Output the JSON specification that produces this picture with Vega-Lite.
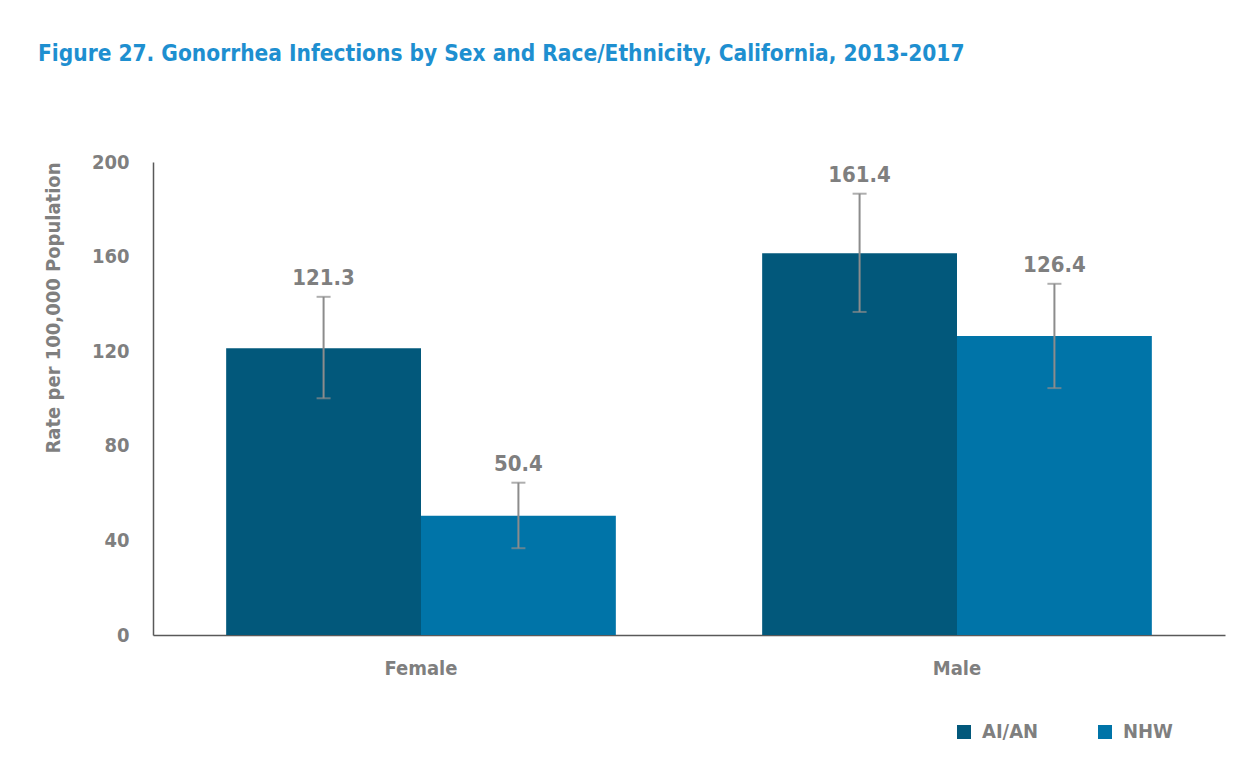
{
  "$schema": "https://vega.github.io/schema/vega-lite/v6.json",
  "width": 1072,
  "height": 473,
  "autosize": "none",
  "padding": {"left": 153, "top": 162, "right": 29, "bottom": 135},
  "background": "white",
  "config": {"view": {"stroke": null}},
  "title": {
    "text": "Figure 27. Gonorrhea Infections by Sex and Race/Ethnicity, California, 2013-2017",
    "anchor": "start",
    "frame": "group",
    "dx": -115,
    "offset": 87,
    "font": "Liberation Sans Narrow, DejaVu Sans Condensed, Roboto Condensed, Liberation Sans, sans-serif",
    "fontSize": 22.5,
    "fontWeight": "bold",
    "color": "#1E8FD0"
  },
  "data": {
    "values": [
      {"sex": "Female", "group": "AI/AN", "rate": 121.3, "lower": 100.1, "upper": 143.0},
      {"sex": "Female", "group": "NHW", "rate": 50.4, "lower": 36.7, "upper": 64.4},
      {"sex": "Male", "group": "AI/AN", "rate": 161.4, "lower": 136.6, "upper": 186.6},
      {"sex": "Male", "group": "NHW", "rate": 126.4, "lower": 104.4, "upper": 148.5}
    ]
  },
  "encoding": {
    "x": {
      "field": "sex",
      "type": "nominal",
      "scale": {"paddingInner": 0.273, "paddingOuter": 0.1365},
      "axis": {
        "title": null,
        "labelAngle": 0,
        "ticks": false,
        "labelPadding": 23,
        "labelFont": "Liberation Sans Narrow, DejaVu Sans Condensed, Roboto Condensed, Liberation Sans, sans-serif",
        "labelFontSize": 20,
        "labelFontWeight": "bold",
        "labelColor": "#7F7F7F",
        "domainColor": "#595959",
        "domainWidth": 1.5
      }
    },
    "xOffset": {"field": "group", "type": "nominal", "scale": {"paddingInner": 0, "paddingOuter": 0}}
  },
  "layer": [
    {
      "mark": {"type": "bar"},
      "encoding": {
        "y": {
          "field": "rate",
          "type": "quantitative",
          "scale": {"domain": [0, 200]},
          "axis": {
            "title": "Rate per 100,000 Population",
            "titleAnchor": "end",
            "values": [0, 40, 80, 120, 160, 200],
            "grid": false,
            "ticks": false,
            "labelPadding": 24,
            "labelFont": "Liberation Sans Narrow, DejaVu Sans Condensed, Roboto Condensed, Liberation Sans, sans-serif",
            "labelFontSize": 20,
            "labelFontWeight": "bold",
            "labelColor": "#7F7F7F",
            "titleFont": "Liberation Sans Narrow, DejaVu Sans Condensed, Roboto Condensed, Liberation Sans, sans-serif",
            "titleFontSize": 20,
            "titleFontWeight": "bold",
            "titleColor": "#7F7F7F",
            "titlePadding": 28,
            "domainColor": "#595959",
            "domainWidth": 1.5
          }
        },
        "color": {
          "field": "group",
          "type": "nominal",
          "scale": {"domain": ["AI/AN", "NHW"], "range": ["#02587B", "#0074A8"]},
          "legend": {
            "title": null,
            "orient": "none",
            "direction": "horizontal",
            "legendX": 801,
            "legendY": 560,
            "padding": 0,
            "symbolType": "square",
            "symbolSize": 196,
            "symbolStrokeWidth": 0,
            "labelFont": "Liberation Sans Narrow, DejaVu Sans Condensed, Roboto Condensed, Liberation Sans, sans-serif",
            "labelFontSize": 20,
            "labelFontWeight": "bold",
            "labelColor": "#7F7F7F",
            "labelOffset": 8,
            "columnPadding": 56
          }
        }
      }
    },
    {
      "mark": {"type": "rule", "color": "#8C8C8C", "strokeWidth": 2},
      "encoding": {
        "y": {"field": "lower", "type": "quantitative"},
        "y2": {"field": "upper"}
      }
    },
    {
      "mark": {"type": "tick", "color": "#8C8C8C", "thickness": 2, "size": 14},
      "encoding": {"y": {"field": "upper", "type": "quantitative"}}
    },
    {
      "mark": {"type": "tick", "color": "#8C8C8C", "thickness": 2, "size": 14},
      "encoding": {"y": {"field": "lower", "type": "quantitative"}}
    },
    {
      "mark": {
        "type": "text",
        "dy": -12,
        "baseline": "alphabetic",
        "font": "Liberation Sans Narrow, DejaVu Sans Condensed, Roboto Condensed, Liberation Sans, sans-serif",
        "fontSize": 22,
        "fontWeight": "bold",
        "color": "#7F7F7F"
      },
      "encoding": {
        "y": {"field": "upper", "type": "quantitative"},
        "text": {"field": "rate", "type": "quantitative", "format": ".1f"}
      }
    }
  ]
}
